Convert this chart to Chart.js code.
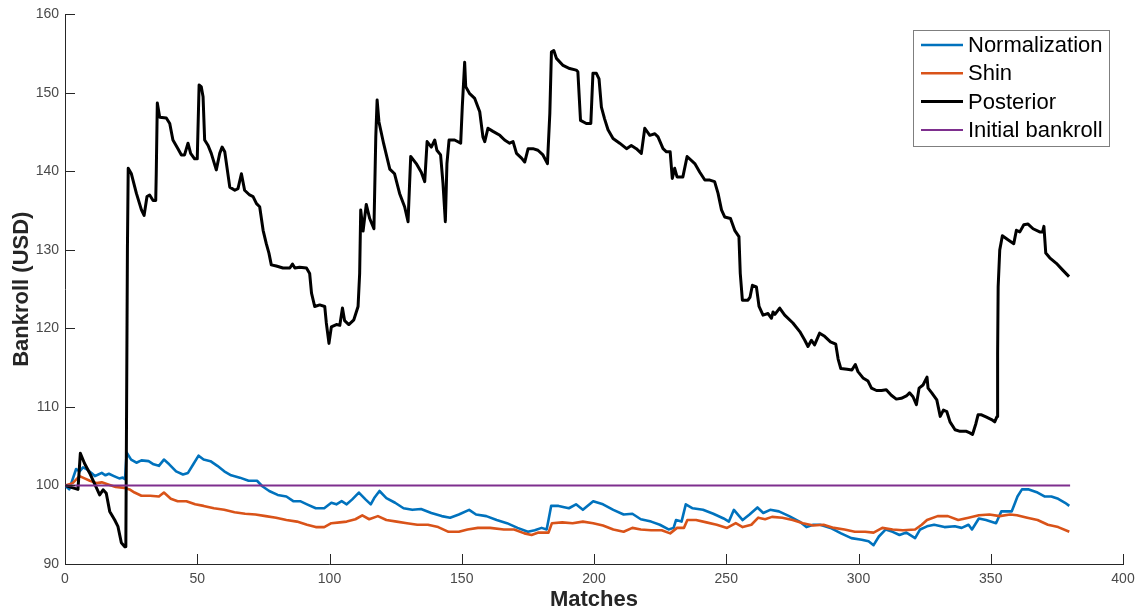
<!DOCTYPE html>
<html>
<head>
<meta charset="utf-8">
<script src="https://cdn.jsdelivr.net/npm/chart.js@4/dist/chart.umd.min.js"></script>
<style>
html,body{margin:0;padding:0;background:#fff;}
#wrap{width:1148px;height:614px;position:relative;}
</style>
</head>
<body>
<div id="wrap"><canvas id="c" width="1148" height="614"></canvas></div>
<script>
// ---- Data ----
const seriesLabels = ["Normalization", "Shin", "Posterior", "Initial bankroll"];

const normX = [0,1.6,2.9,4.2,5.5,6.8,8.1,10.0,11.3,12.6,13.9,15.3,16.6,18.5,20.5,21.8,22.7,23.3,25.0,27.0,28.9,31.6,33.5,35.5,37.4,39.4,42.0,44.6,46.5,48.5,50.5,52.4,55.0,57.6,60.2,62.8,66.1,69.4,72.6,74.6,77.2,80.4,83.7,86.3,88.9,91.5,94.8,98.0,100.7,102.6,104.6,106.5,108.5,111.1,113.7,115.6,116.9,118.9,121.5,124.8,128.0,131.3,134.6,138.5,142.4,145.6,148.9,152.8,155.4,159.3,163.2,167.1,171.1,175.0,177.6,180.2,182.1,182.8,183.8,186.6,190.5,193.2,195.8,199.7,203.4,207.3,211.2,214.5,217.7,221.6,224.9,228.2,230.1,231.0,233.1,234.7,237.3,241.2,245.1,249.0,251.0,252.9,254.9,256.2,258.8,261.8,264.0,266.6,269.9,273.8,277.7,280.3,282.9,285.5,289.4,293.4,297.3,301.2,303.8,305.7,307.7,310.3,312.9,315.5,318.1,321.4,323.3,325.9,328.6,332.5,336.4,339.0,341.6,342.9,345.5,348.2,352.0,354.0,357.9,359.2,360.1,361.8,364.4,367.7,370.3,372.9,375.5,378.1,379.7];
const normY = [100,99.5,100.8,102.1,101.8,102.3,102.1,101.6,101.2,101.4,101.6,101.3,101.5,101.2,100.9,101.0,100.8,104.2,103.3,102.9,103.2,103.1,102.7,102.5,103.3,102.7,101.8,101.4,101.6,102.7,103.8,103.3,103.1,102.5,101.8,101.3,101.0,100.6,100.6,99.9,99.3,98.8,98.6,98.0,98.0,97.6,97.1,97.1,97.8,97.6,98.0,97.6,98.2,99.1,98.2,97.6,98.4,99.3,98.4,97.8,97.1,96.9,97.0,96.5,96.1,95.9,96.3,96.9,96.3,96.1,95.6,95.2,94.6,94.1,94.3,94.6,94.4,95.6,97.4,97.4,97.1,97.6,96.9,98.0,97.6,96.9,96.3,96.4,95.7,95.4,95.0,94.4,94.6,95.6,95.4,97.6,97.1,96.9,96.4,95.8,95.4,96.9,96.1,95.6,96.3,97.2,96.5,96.9,96.7,96.1,95.4,94.7,95.0,95.0,94.6,93.9,93.3,93.1,92.9,92.4,93.5,94.4,94.1,93.7,94.0,93.3,94.4,94.8,95.0,94.7,94.8,94.6,95.0,94.4,95.8,95.6,95.2,96.7,96.7,97.8,98.6,99.5,99.5,99.1,98.6,98.6,98.3,97.8,97.4];

const shinX = [0,2.9,5.5,7.4,9.4,12.0,13.9,16.6,19.2,22.4,24.4,26.3,28.9,32.2,35.5,37.4,40.0,42.6,45.9,49.2,52.4,56.3,60.2,64.1,68.1,72.0,75.9,79.8,83.7,87.7,91.5,94.8,98.0,100.7,103.9,106.5,109.8,112.4,115.0,118.3,121.5,125.4,129.3,133.2,137.2,141.1,145.0,148.9,152.2,156.1,160.7,165.9,169.8,173.7,176.4,179.0,182.8,184.1,188.0,191.9,195.8,199.7,203.4,207.3,211.2,214.5,217.7,221.6,225.6,228.8,231.4,234.0,235.3,238.6,242.5,246.4,250.3,253.6,256.2,259.5,262.1,264.7,267.3,271.2,275.1,279.0,282.9,286.8,290.7,294.7,298.6,302.5,305.7,309.0,312.9,316.8,321.4,323.9,325.9,329.9,333.8,337.7,341.6,345.5,349.5,353.4,357.3,359.9,363.8,367.7,371.6,375.5,379.7];
const shinY = [100,100.3,101.2,100.9,100.6,100.3,100.4,100.1,99.8,99.7,99.5,99.1,98.7,98.7,98.6,99.1,98.3,98.0,98.0,97.6,97.4,97.1,96.9,96.6,96.4,96.3,96.1,95.9,95.6,95.4,95.0,94.7,94.7,95.2,95.3,95.4,95.7,96.2,95.7,96.1,95.6,95.4,95.2,95.0,95.0,94.7,94.1,94.1,94.4,94.6,94.6,94.4,94.4,93.9,93.7,94.0,94.0,95.2,95.3,95.2,95.4,95.2,94.9,94.4,94.1,94.6,94.4,94.3,94.3,93.9,94.6,94.6,95.6,95.6,95.3,95.0,94.6,95.2,94.7,95.0,95.9,95.7,96.0,95.9,95.6,95.2,94.9,95.0,94.6,94.4,94.1,94.1,94.0,94.6,94.4,94.3,94.4,95.0,95.6,96.1,96.1,95.6,95.9,96.2,96.3,96.1,96.3,96.2,95.9,95.6,95.0,94.7,94.1];

const postX = [0,4.9,5.8,7.4,9.3,11.9,13.1,14.4,15.6,16.9,18.8,20.0,21.3,22.6,23.0,23.3,23.6,23.9,25.1,27.0,28.9,29.9,31.0,32.0,33.3,34.3,34.5,34.9,35.8,38.3,39.6,40.8,42.7,44.0,45.2,46.5,47.5,49.0,50.0,50.7,51.5,52.2,52.8,54.1,55.3,57.2,58.5,59.4,60.4,62.3,64.2,65.4,66.7,67.9,69.8,71.1,72.4,73.6,74.9,76.1,77.1,78.0,79.9,82.4,85.0,86.0,86.9,88.7,91.3,92.5,93.2,94.4,96.3,98.2,98.8,99.8,100.7,102.6,103.9,104.9,105.7,107.3,109.2,110.8,111.4,111.8,112.7,113.9,115.2,116.8,117.5,118.0,118.7,120.5,122.8,124.6,126.5,128.4,129.7,130.7,132.8,134.7,136.0,136.9,138.5,139.8,140.6,142.0,142.9,143.8,144.4,145.2,147.3,149.6,150.2,151.1,151.5,153.0,154.9,156.8,158.0,158.7,159.9,161.8,164.4,166.2,168.1,169.4,170.7,172.6,173.8,175.1,176.9,178.8,180.7,182.4,183.3,183.9,184.8,185.8,188.3,190.8,193.3,193.9,194.9,197.1,198.8,199.6,200.9,201.9,202.8,204.0,205.3,207.2,209.7,212.3,214.1,216.0,217.9,219.2,221.1,223.0,224.2,226.1,227.4,228.8,229.6,230.5,231.4,233.6,235.2,238.1,240.0,241.9,243.8,245.6,246.9,248.2,249.4,251.6,253.2,254.8,255.3,256.1,258.2,259.0,259.9,261.4,262.4,263.9,265.8,267.1,267.7,268.4,270.2,272.1,275.2,277.8,279.7,280.9,282.2,283.4,285.3,287.2,289.4,291.4,292.3,293.3,295.7,297.5,298.8,299.8,301.7,303.6,304.9,306.8,308.7,310.5,312.4,314.3,316.2,318.1,319.3,320.6,321.9,322.9,324.4,325.9,326.3,327.7,329.6,330.9,332.1,333.4,334.6,336.5,338.4,340.8,342.1,343.1,344.4,345.2,346.5,348.4,350.3,351.5,352.4,352.6,352.8,353.4,354.4,356.5,358.7,359.7,361.0,362.5,364.1,366.0,368.5,369.6,370.1,370.8,372.3,374.8,377.3,379.6];
const postY = [100,99.5,104.1,102.8,101.6,99.7,98.8,99.45,99.0,96.7,95.6,94.8,92.7,92.2,92.2,110.8,130.2,140.4,139.7,137.2,135.1,134.4,136.8,137.0,136.3,136.3,139.7,148.7,146.9,146.8,146.1,144.0,142.9,142.1,142.1,143.6,142.3,141.6,141.6,151.0,150.8,149.5,144.0,143.3,142.3,140.2,142.3,143.1,142.5,138.0,137.6,137.8,139.7,137.6,137.0,136.8,135.9,135.5,132.5,130.8,129.6,128.1,127.95,127.7,127.7,128.2,127.7,127.8,127.7,127.0,124.5,122.8,123.0,122.8,120.7,118.1,120.2,120.5,120.4,122.6,121.0,120.5,121.1,122.8,127.0,135.1,132.4,135.8,134.0,132.7,144.4,149.1,146.3,143.5,140.3,139.7,137.2,135.5,133.6,141.9,141.0,139.9,138.7,143.8,143.1,144.0,142.7,142.1,138.5,133.6,141.0,144.0,144.0,143.6,148.2,153.9,150.8,149.9,149.3,147.6,144.4,143.8,145.5,145.1,144.6,144.0,143.6,143.8,142.3,141.7,141.2,142.9,142.9,142.7,142.1,141.0,147.4,155.2,155.4,154.4,153.5,153.1,152.9,152.7,146.5,146.1,146.1,152.5,152.5,151.8,148.2,146.7,145.3,144.2,143.6,142.9,143.3,142.9,142.3,145.5,144.6,144.8,144.4,142.9,142.5,142.5,139.1,140.4,139.3,139.3,141.9,141.0,139.9,138.9,138.9,138.7,137.2,135.1,134.2,134.0,132.5,131.7,127.0,123.6,123.6,124.0,125.5,125.3,122.8,121.7,121.9,121.3,122.1,121.8,122.6,121.7,120.7,119.6,118.5,117.7,118.5,117.9,119.4,119.0,118.3,118.0,116.1,114.9,114.8,114.7,115.4,114.5,113.7,113.3,112.4,112.1,112.1,112.2,111.5,111.0,111.1,111.4,111.8,111.3,110.3,112.4,112.8,113.8,112.4,111.8,110.9,108.8,109.6,109.4,108.1,107.1,106.9,106.9,106.7,106.5,107.9,109.0,109.0,108.7,108.4,108.1,108.8,116.8,125.3,130.0,131.8,131.3,130.8,132.5,132.3,133.2,133.3,132.7,132.3,132.3,133.0,129.6,129.0,128.3,127.4,126.6];

const initX = [0, 380];
const initY = [100, 100];

const xTicks = [0, 50, 100, 150, 200, 250, 300, 350, 400];
const yTicks = [90, 100, 110, 120, 130, 140, 150, 160];

const xTitle = "Matches";
const yTitle = "Bankroll (USD)";

// ---- Build chart ----
function pts(xs, ys) { return xs.map((x, i) => ({x: x, y: ys[i]})); }

const colors = ["#0072BD", "#D95319", "#000000", "#7E2F8E"];
const widths = [2.6, 2.6, 3, 2];

const FONT = "'Liberation Sans', Arial, Helvetica, sans-serif";

const innerTicks = {
  id: 'innerTicks',
  afterDraw(chart) {
    const ctx = chart.ctx;
    const xs = chart.scales.x, ys = chart.scales.y;
    const a = chart.chartArea;
    ctx.save();
    ctx.strokeStyle = '#262626';
    ctx.lineWidth = 1;
    ctx.beginPath();
    xTicks.forEach(v => {
      const p = Math.round(xs.getPixelForValue(v)) + 0.5;
      ctx.moveTo(p, a.bottom); ctx.lineTo(p, a.bottom - 10);
    });
    yTicks.forEach(v => {
      const p = Math.round(ys.getPixelForValue(v)) + 0.5;
      ctx.moveTo(a.left, p); ctx.lineTo(a.left + 10, p);
    });
    ctx.stroke();
    ctx.restore();
  }
};

const boxLegend = {
  id: 'boxLegend',
  afterDraw(chart) {
    const ctx = chart.ctx;
    const bx = 913.5, by = 30.5, bw = 196, bh = 116;
    ctx.save();
    ctx.fillStyle = '#ffffff';
    ctx.fillRect(bx, by, bw, bh);
    ctx.strokeStyle = '#7f7f7f';
    ctx.lineWidth = 1;
    ctx.strokeRect(bx, by, bw, bh);
    ctx.font = "22px " + FONT;
    ctx.textBaseline = 'middle';
    ctx.textAlign = 'left';
    chart.data.datasets.forEach((ds, i) => {
      const y = 45 + i * 28.3;
      ctx.strokeStyle = ds.borderColor;
      ctx.lineWidth = ds.borderWidth;
      ctx.beginPath();
      ctx.moveTo(921, y); ctx.lineTo(963, y);
      ctx.stroke();
      ctx.fillStyle = '#000000';
      ctx.fillText(ds.label, 968, y + 1);
    });
    ctx.restore();
  }
};

const datasets = [
  {label: seriesLabels[0], data: pts(normX, normY), order: 3},
  {label: seriesLabels[1], data: pts(shinX, shinY), order: 2},
  {label: seriesLabels[2], data: pts(postX, postY), order: 1},
  {label: seriesLabels[3], data: pts(initX, initY), order: 0}
].map((d, i) => Object.assign(d, {
  borderColor: colors[i], backgroundColor: colors[i], borderWidth: widths[i],
  pointRadius: 0, tension: 0, fill: false, borderJoinStyle: 'round', borderCapStyle: 'butt'
}));

new Chart(document.getElementById('c'), {
  type: 'line',
  data: {datasets: datasets},
  options: {
    responsive: false,
    animation: false,
    events: [],
    layout: {padding: {left: 0, right: 25, top: 14, bottom: 0}},
    plugins: {legend: {display: false}, tooltip: {enabled: false}},
    scales: {
      x: {
        type: 'linear', min: 0, max: 400,
        afterBuildTicks: s => { s.ticks = xTicks.map(v => ({value: v})); },
        afterFit: s => { s.height = 50; },
        grid: {display: false, drawTicks: false},
        border: {display: true, color: '#262626', width: 1},
        ticks: {color: '#4a4a4a', font: {family: FONT, size: 14}, padding: 7, maxRotation: 0, autoSkip: false},
        title: {display: true, text: xTitle, color: '#262626', font: {family: FONT, size: 22, weight: 'bold'}, padding: {top: 0, bottom: 1}}
      },
      y: {
        type: 'linear', min: 90, max: 160,
        afterBuildTicks: s => { s.ticks = yTicks.map(v => ({value: v})); },
        afterFit: s => { s.width = 65; },
        grid: {display: false, drawTicks: false},
        border: {display: true, color: '#262626', width: 1},
        ticks: {color: '#4a4a4a', font: {family: FONT, size: 14}, padding: 6, autoSkip: false},
        title: {display: true, text: yTitle, color: '#262626', font: {family: FONT, size: 22, weight: 'bold'}, padding: {top: 9, bottom: 0}}
      }
    }
  },
  plugins: [innerTicks, boxLegend]
});
</script>
</body>
</html>
